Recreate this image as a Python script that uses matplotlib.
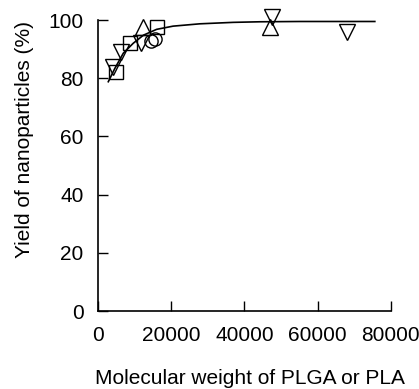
import matplotlib
matplotlib.use('Agg')
import matplotlib.pyplot as plt
import numpy as np

plt.rcParams['font.family'] = ['Liberation Sans', 'DejaVu Sans']

# measured points (molecular weight, yield %)
sq_x = [5000, 8700, 16000]
sq_y = [82.0, 92.2, 97.7]
dn_x = [4200, 6300, 11600, 47400, 68100]
dn_y = [84.0, 89.1, 92.2, 101.0, 95.8]
up_x = [12200, 46900]
up_y = [97.7, 97.7]
ci_x = [14600, 15500]
ci_y = [92.8, 93.4]

# fitted curve
fit_x = [2800, 4600, 6900, 9600, 12400, 16000, 20500, 27800, 36900, 44200, 55100, 65000, 75600]
fit_y = [78.8, 83.4, 88.6, 92.0, 94.8, 96.8, 97.9, 98.7, 99.2, 99.4, 99.5, 99.5, 99.5]

xticks = [0, 20000, 40000, 60000, 80000]
yticks = [0, 20, 40, 60, 80, 100]


def yield_plot():
    fig = plt.figure(figsize=(4.19, 3.89), dpi=100)
    ax = fig.add_axes([0.234, 0.2005, 0.699, 0.748])

    ax.plot(fit_x, fit_y, color='black', lw=1.2, clip_on=False)

    style = dict(linestyle='none', markerfacecolor='none', markeredgecolor='black',
                 markeredgewidth=1.0, clip_on=False)
    ax.plot(sq_x, sq_y, marker='s', markersize=10, **style)
    ax.plot(dn_x, dn_y, marker='v', markersize=11, **style)
    ax.plot(up_x, up_y, marker='^', markersize=11, **style)
    ax.plot(ci_x, ci_y, marker='o', markersize=9.5, **style)

    ax.set_xlim(0, 80000)
    ax.set_ylim(0, 100)
    ax.set_xticks(xticks)
    ax.set_yticks(yticks)
    ax.tick_params(direction='in', length=7, width=1, labelsize=15)
    ax.tick_params(axis='x', pad=11)
    ax.tick_params(axis='y', pad=10.5)
    for s in ['top', 'right']:
        ax.spines[s].set_visible(False)
    for s in ['left', 'bottom']:
        ax.spines[s].set_linewidth(1.2)

    ax.set_xlabel('Molecular weight of PLGA or PLA', fontsize=15)
    ax.set_ylabel('Yield of nanoparticles (%)', fontsize=15)
    ax.xaxis.set_label_coords(0.519, -0.2)
    ax.yaxis.set_label_coords(-0.22, 0.59)

    fig.savefig('out.png', dpi=100)


def main():
    yield_plot()


if __name__ == "__main__":
    main()
